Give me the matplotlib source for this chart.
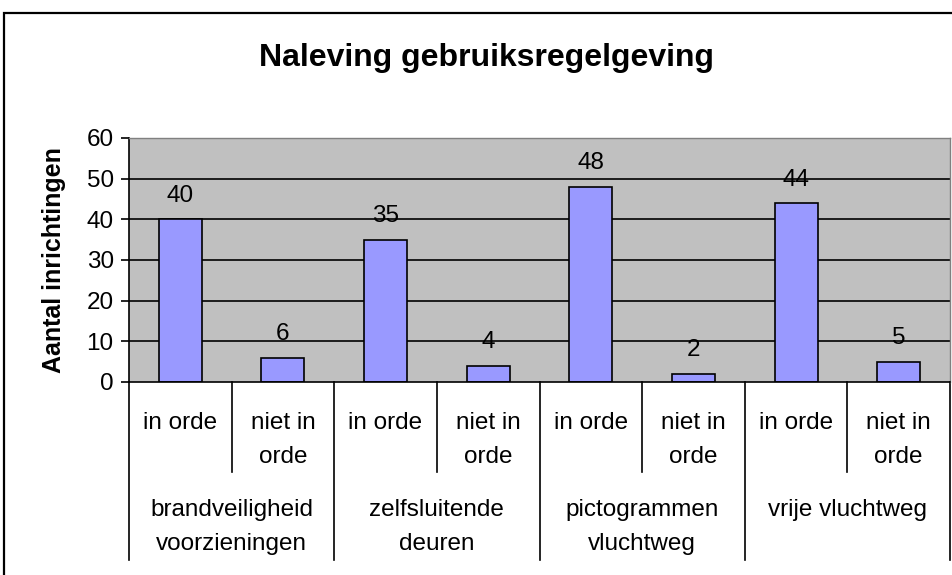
import matplotlib.pyplot as plt
from matplotlib.patches import Rectangle

plt.rcParams['font.family'] = ['Liberation Sans', 'DejaVu Sans']

# data
groups = ['brandveiligheid\nvoorzieningen', 'zelfsluitende\ndeuren',
          'pictogrammen\nvluchtweg', 'vrije vluchtweg']
sub_labels = ['in orde', 'niet in\norde']
values = [40, 6, 35, 4, 48, 2, 44, 5]
yticks = [0, 10, 20, 30, 40, 50, 60]

W, H = 952, 575
fig = plt.figure(figsize=(W / 100, H / 100), dpi=100)

# outer chart border (runs off the right and bottom edge)
fig.patches.append(Rectangle((4 / W, -0.1), 1.2, 1.1 - 13 / H,
                             transform=fig.transFigure, fill=False,
                             edgecolor='black', linewidth=1.6))

ax = fig.add_axes([129 / W, 1 - 382 / H, (950 - 129) / W, (382 - 138) / H])
ax.set_facecolor('#C0C0C0')

x = list(range(len(values)))
ax.set_xlim(-0.5, len(values) - 0.5)
ax.set_ylim(0, 60)
ax.set_yticks(yticks)
for y in yticks[1:]:
    ax.axhline(y, color='black', linewidth=1.2, zorder=1)

bars = ax.bar(x, values, width=0.42, color='#9999FF', edgecolor='black',
              linewidth=1.2, zorder=2)
for xi, v in zip(x, values):
    ax.annotate(str(v), (xi, v), xytext=(0, 9), textcoords='offset points',
                ha='center', va='bottom', fontsize=17.5, zorder=3)

ax.tick_params(axis='y', labelsize=17.5, length=6, width=1.2, pad=5)
ax.tick_params(axis='x', bottom=False, labelbottom=False)
for side in ['top', 'right']:
    ax.spines[side].set_color('#808080')
    ax.spines[side].set_linewidth(1)
for side in ['left', 'bottom']:
    ax.spines[side].set_color('black')
    ax.spines[side].set_linewidth(1.2)

ax.set_ylabel('Aantal inrichtingen', fontsize=18, fontweight='bold', labelpad=15)

# multi-level category axis
tr = ax.get_xaxis_transform()
ah = 382 - 138
sub_bottom = -(472 - 382) / ah
grp_bottom = -(560 - 382) / ah
for i in range(len(values) + 1):
    yb = grp_bottom if i % 2 == 0 else sub_bottom
    ax.plot([i - 0.5, i - 0.5], [0, yb], transform=tr, color='black',
            linewidth=1.2, clip_on=False)

for i in range(len(values)):
    ax.text(i, -(412 - 382) / ah, sub_labels[i % 2], transform=tr,
            ha='center', va='top', fontsize=17.5, linespacing=1.7)
for g, name in enumerate(groups):
    ax.text(2 * g + 0.5, -(499 - 382) / ah, name, transform=tr,
            ha='center', va='top', fontsize=17.5, linespacing=1.7)

fig.text(487 / W, 1 - 58 / H, 'Naleving gebruiksregelgeving', ha='center',
         va='center', fontsize=23, fontweight='bold')

fig.savefig('out.png', dpi=100)
